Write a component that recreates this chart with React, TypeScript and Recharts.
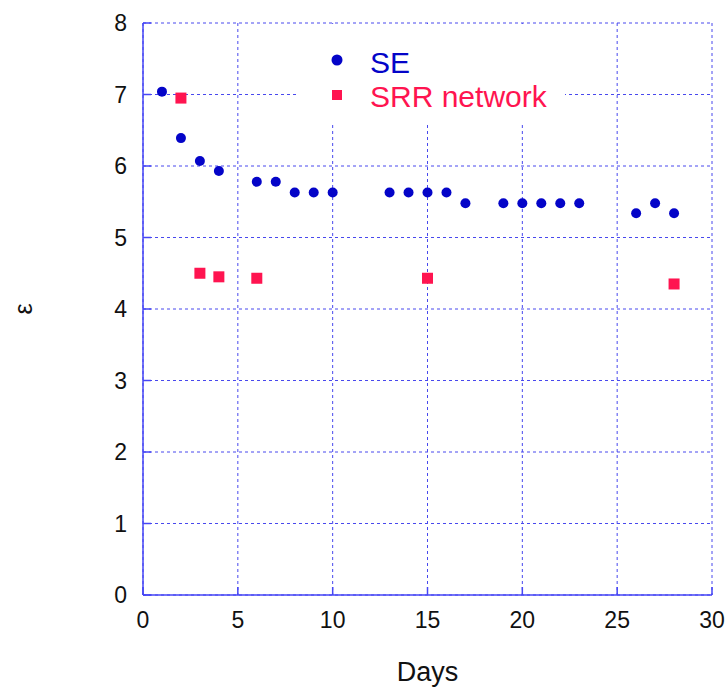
import { ScatterChart, Scatter, XAxis, YAxis, CartesianGrid } from 'recharts'

// permittivity (ε) of the two sensors, day by day
const seDays = [1, 2, 3, 4, 6, 7, 8, 9, 10, 13, 14, 15, 16, 17, 19, 20, 21, 22, 23, 26, 27, 28]
const seEps = [7.04, 6.39, 6.07, 5.93, 5.78, 5.78, 5.63, 5.63, 5.63, 5.63, 5.63, 5.63, 5.63, 5.48, 5.48, 5.48, 5.48, 5.48, 5.48, 5.34, 5.48, 5.34]
const srrDays = [2, 3, 4, 6, 15, 28]
const srrEps = [6.95, 4.5, 4.45, 4.43, 4.43, 4.35]

const xTicks = [0, 5, 10, 15, 20, 25, 30]
const yTicks = [0, 1, 2, 3, 4, 5, 6, 7, 8]
const seriesNames = ['SE', 'SRR network']

const W = 725
const H = 693
const FRAME = '#4646f5'
const GRID = '#4848ee'
const BLUE = '#0404c8'
const RED = '#ff1450'
const FONT = '"Liberation Sans", Arial, sans-serif'

const seData = seDays.map((d, i) => ({ day: d, eps: seEps[i] }))
const srrData = srrDays.map((d, i) => ({ day: d, eps: srrEps[i] }))

function BottomTick({ x, y, payload }: any) {
  return (
    <g>
      <line x1={x} y1={y} x2={x} y2={y - 8} stroke={FRAME} strokeWidth={1.5} />
      <text x={x} y={y + 33} textAnchor="middle" fontSize={23} fontFamily={FONT} fill="#111">{payload.value}</text>
    </g>
  )
}

function LeftTick({ x, y, payload }: any) {
  return (
    <g>
      <line x1={x} y1={y} x2={x + 8} y2={y} stroke={FRAME} strokeWidth={1.5} />
      <text x={x - 16} y={y + 8} textAnchor="end" fontSize={23} fontFamily={FONT} fill="#111">{payload.value}</text>
    </g>
  )
}

function TopTick({ x, y }: any) {
  return <line x1={x} y1={y} x2={x} y2={y + 9} stroke={FRAME} strokeWidth={1.5} />
}

function RightTick({ x, y }: any) {
  return <line x1={x} y1={y} x2={x - 12} y2={y} stroke={FRAME} strokeWidth={1.5} />
}

function Dot({ cx, cy }: any) {
  return <circle cx={cx} cy={cy} r={5} fill={BLUE} />
}

function Square({ cx, cy }: any) {
  return <rect x={cx - 5.5} y={cy - 5.5} width={11} height={11} fill={RED} />
}

function Legend() {
  return (
    <div style={{ position: 'absolute', left: 297, top: 24, width: 268, height: 101, background: '#fff' }}>
      <svg width={268} height={101}>
        <circle cx={40} cy={36} r={5.5} fill={BLUE} />
        <text x={73} y={49} fontSize={30} fontFamily={FONT} fill={BLUE}>{seriesNames[0]}</text>
        <rect x={35} y={66} width={10} height={10} fill={RED} />
        <text x={73} y={83} fontSize={30} fontFamily={FONT} fill={RED}>{seriesNames[1]}</text>
      </svg>
    </div>
  )
}

export default function App() {
  return (
    <div style={{ position: 'relative', width: W, height: H, background: '#fff' }}>
      <style>{'body{margin:0}'}</style>
      <ScatterChart width={W} height={H} margin={{ top: 23, right: 13, bottom: 0, left: 0 }}>
        <CartesianGrid stroke={GRID} strokeDasharray="3 3" />
        <XAxis
          type="number"
          dataKey="day"
          domain={[0, 30]}
          ticks={xTicks}
          height={98}
          tickSize={0}
          tickMargin={0}
          axisLine={{ stroke: FRAME, strokeWidth: 1.5 }}
          tick={<BottomTick />}
          label={({ viewBox }: any) => (
            <text x={viewBox.x + viewBox.width / 2} y={viewBox.y + 86} textAnchor="middle" fontSize={27} fontFamily={FONT} fill="#111">Days</text>
          )}
        />
        <XAxis xAxisId="top" orientation="top" type="number" dataKey="day" domain={[0, 30]} ticks={xTicks} height={0} tickSize={0} tickMargin={0} axisLine={{ stroke: FRAME, strokeWidth: 1.5 }} tick={<TopTick />} />
        <YAxis
          type="number"
          dataKey="eps"
          domain={[0, 8]}
          ticks={yTicks}
          width={143}
          tickSize={0}
          tickMargin={0}
          axisLine={{ stroke: FRAME, strokeWidth: 1.5 }}
          tick={<LeftTick />}
          label={({ viewBox }: any) => (
            <text
              x={viewBox.x + 23}
              y={viewBox.y + viewBox.height / 2}
              textAnchor="middle"
              dominantBaseline="central"
              fontSize={25}
              fontFamily={FONT}
              fill="#111"
              transform={`rotate(-90 ${viewBox.x + 23} ${viewBox.y + viewBox.height / 2})`}
            >
              ε
            </text>
          )}
        />
        <YAxis yAxisId="right" orientation="right" type="number" dataKey="eps" domain={[0, 8]} ticks={yTicks} width={0} tickSize={0} tickMargin={0} axisLine={{ stroke: FRAME, strokeWidth: 1.5 }} tick={<RightTick />} />
        <Scatter name={seriesNames[0]} data={seData} shape={<Dot />} isAnimationActive={false} />
        <Scatter name={seriesNames[1]} data={srrData} shape={<Square />} isAnimationActive={false} />
      </ScatterChart>
      <Legend />
    </div>
  )
}
